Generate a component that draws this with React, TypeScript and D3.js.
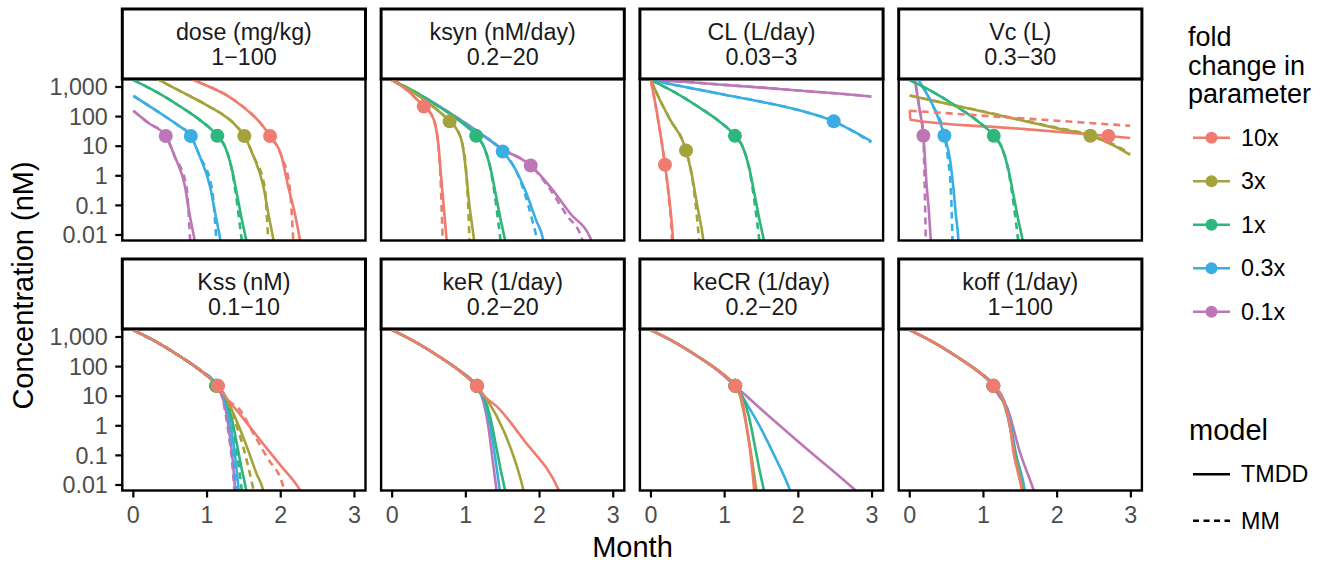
import React from 'react';
import * as d3 from 'd3';

type Pt = [number, number]; // [month, concentration nM]

const foldLabels = ['10x', '3x', '1x', '0.3x', '0.1x'];
const foldColors = ['#F07B6F', '#A4A23A', '#2EB67D', '#3AAEE3', '#BD77B6'];
const modelLabels = ['TMDD', 'MM'];
const panelNames = ['dose (mg/kg)', 'ksyn (nM/day)', 'CL (L/day)', 'Vc (L)', 'Kss (nM)', 'keR (1/day)', 'keCR (1/day)', 'koff (1/day)'];
const panelRanges = ['1\u2212100', '0.2\u221220', '0.03\u22123', '0.3\u221230', '0.1\u221210', '0.2\u221220', '0.2\u221220', '1\u2212100'];
const monthTicks = [0, 1, 2, 3];
const concTicks = [0.01, 0.1, 1, 10, 100, 1000];

// reference (1x) profile, shared by every panel
const base1xHead: Pt[] = [[0, 1700], [0.3, 710], [0.63, 224], [0.905, 76], [1.14, 22.4]];
const base1xTmdd: Pt[] = [...base1xHead, [1.25, 8.9], [1.33, 2.0], [1.40, 0.28], [1.47, 0.035], [1.53, 0.0069], [1.56, 0.0025]];
const base1xMm: Pt[] = [...base1xHead, [1.25, 8.9], [1.33, 1.9], [1.39, 0.25], [1.44, 0.028], [1.47, 0.0069], [1.49, 0.0025]];

// dose
const doseTmdd: Pt[][] = [
  [[0, 15800], [0.81, 1780], [1.36, 372], [1.76, 47], [1.855, 22], [2.01, 4.6], [2.10, 0.44], [2.19, 0.055], [2.26, 0.0069], [2.29, 0.0025]],
  [[0, 5250], [0.34, 1780], [0.7, 600], [1.0, 240], [1.4, 47], [1.506, 22], [1.63, 4.6], [1.764, 0.44], [1.83, 0.055], [1.90, 0.0069], [1.93, 0.0025]],
  base1xTmdd,
  [[0, 500], [0.36, 132], [0.6, 52], [0.78, 22], [0.90, 4.6], [1.04, 0.44], [1.11, 0.055], [1.18, 0.0069], [1.21, 0.0025]],
  [[0, 158], [0.2, 62], [0.44, 22], [0.56, 4.6], [0.70, 0.44], [0.76, 0.055], [0.83, 0.0069], [0.86, 0.0025]],
];
const doseMm: Pt[][] = [
  [[0, 15800], [0.81, 1780], [1.36, 372], [1.76, 47], [1.855, 22], [2.01, 4.6], [2.12, 0.44], [2.17, 0.0069], [2.18, 0.0025]],
  [[0, 5250], [0.34, 1780], [0.7, 600], [1.0, 240], [1.4, 47], [1.506, 22], [1.63, 4.6], [1.78, 0.44], [1.83, 0.0069], [1.84, 0.0025]],
  base1xMm,
  [[0, 500], [0.36, 132], [0.6, 52], [0.78, 22], [0.90, 4.6], [1.06, 0.44], [1.125, 0.0069], [1.135, 0.0025]],
  [[0, 158], [0.2, 62], [0.44, 22], [0.56, 4.6], [0.72, 0.44], [0.77, 0.0069], [0.78, 0.0025]],
];
const doseDots: (Pt | null)[] = [[1.855, 22], [1.506, 22], [1.14, 22.4], [0.78, 22], [0.44, 22]];

// ksyn
const ksynTmdd: Pt[][] = [
  [[0, 1700], [0.2, 790], [0.43, 219], [0.52, 132], [0.59, 47], [0.63, 9.8], [0.66, 1.23], [0.70, 0.093], [0.74, 0.0069], [0.76, 0.0025]],
  [[0, 1700], [0.4, 427], [0.78, 69], [0.88, 36], [0.95, 12.9], [0.995, 2.1], [1.04, 0.155], [1.11, 0.0069], [1.13, 0.0025]],
  base1xTmdd,
  [[0, 1700], [0.6, 250], [1.1, 38], [1.5, 6.6], [1.66, 1.9], [1.82, 0.263], [1.95, 0.033], [2.05, 0.0069], [2.08, 0.0025]],
  [[0, 1700], [0.6, 255], [1.1, 40], [1.5, 7.9], [1.88, 2.24], [2.14, 0.44], [2.42, 0.052], [2.70, 0.0069], [2.76, 0.0025]],
];
const ksynMm: Pt[][] = [
  [[0, 1700], [0.2, 790], [0.43, 219], [0.52, 132], [0.59, 47], [0.63, 8.9], [0.655, 1.0], [0.67, 0.1], [0.685, 0.0069], [0.69, 0.0025]],
  [[0, 1700], [0.4, 427], [0.78, 69], [0.88, 36], [0.95, 12.9], [1.0, 1.9], [1.03, 0.126], [1.05, 0.0069], [1.06, 0.0025]],
  base1xMm,
  [[0, 1700], [0.6, 250], [1.1, 38], [1.5, 6.6], [1.66, 1.9], [1.80, 0.25], [1.90, 0.032], [1.96, 0.0069], [1.98, 0.0025]],
  [[0, 1700], [0.6, 255], [1.1, 40], [1.5, 7.9], [1.88, 2.24], [2.12, 0.42], [2.36, 0.05], [2.58, 0.0069], [2.63, 0.0025]],
];
const ksynDots: (Pt | null)[] = [[0.43, 219], [0.78, 69], [1.14, 22.4], [1.5, 6.6], [1.88, 2.24]];

// CL
const clTmdd: Pt[][] = [
  [[0, 1700], [0.1, 71], [0.19, 2.37], [0.25, 0.158], [0.30, 0.0069], [0.31, 0.0025]],
  [[0, 1700], [0.12, 372], [0.26, 79], [0.476, 7.2], [0.55, 1.23], [0.63, 0.093], [0.71, 0.0069], [0.73, 0.0025]],
  base1xTmdd,
  [[0, 1700], [0.5, 955], [1.0, 550], [1.48, 324], [2.0, 166], [2.48, 69], [2.75, 31.6], [2.99, 14.5]],
  [[0, 1700], [0.5, 1480], [1.0, 1175], [1.5, 955], [2.0, 759], [2.5, 617], [2.99, 479]],
];
const clMm: Pt[][] = [
  [[0, 1700], [0.1, 71], [0.19, 2.37], [0.245, 0.15], [0.285, 0.0069], [0.29, 0.0025]],
  [[0, 1700], [0.12, 372], [0.26, 79], [0.476, 7.2], [0.55, 1.2], [0.61, 0.09], [0.65, 0.0069], [0.66, 0.0025]],
  base1xMm,
  [[0, 1700], [0.5, 955], [1.0, 550], [1.48, 324], [2.0, 166], [2.48, 69], [2.75, 31], [2.99, 13.5]],
  [[0, 1700], [0.5, 1480], [1.0, 1175], [1.5, 955], [2.0, 759], [2.5, 617], [2.99, 479]],
];
const clDots: (Pt | null)[] = [[0.19, 2.37], [0.476, 7.2], [1.14, 22.4], [2.48, 69], null];

// Vc
const vcTmdd: Pt[][] = [
  [[0, 165], [0.008, 78], [1.5, 39], [2.695, 22], [2.99, 19]],
  [[0, 513], [1.0, 145], [2.0, 40], [2.45, 22.6], [2.75, 11.2], [2.99, 5.1]],
  base1xTmdd,
  [[0, 5600], [0.117, 1780], [0.32, 219], [0.47, 22.6], [0.547, 3.47], [0.59, 0.437], [0.625, 0.05], [0.66, 0.0069], [0.67, 0.0025]],
  [[0, 17000], [0.07, 1780], [0.13, 200], [0.185, 22.6], [0.23, 0.437], [0.26, 0.063], [0.285, 0.0069], [0.295, 0.0025]],
];
const vcMm: Pt[][] = [
  [[0, 158], [1.5, 88], [2.99, 49]],
  [[0, 513], [1.0, 148], [2.0, 42], [2.45, 24], [2.75, 12], [2.99, 5.6]],
  base1xMm,
  [[0, 5600], [0.117, 1780], [0.32, 219], [0.47, 22.6], [0.52, 3.5], [0.555, 0.44], [0.57, 0.055], [0.58, 0.0069], [0.585, 0.0025]],
  [[0, 17000], [0.07, 1780], [0.13, 200], [0.185, 22.6], [0.20, 1.0], [0.21, 0.063], [0.218, 0.0069], [0.222, 0.0025]],
];
const vcDots: (Pt | null)[] = [[2.695, 22], [2.45, 22.6], [1.14, 22.4], [0.47, 22.6], [0.185, 22.6]];

// Kss
const kssTmdd: Pt[][] = [
  [...base1xHead, [1.22, 12.3], [1.30, 6.5], [1.40, 3.4], [1.72, 0.33], [2.0, 0.045], [2.26, 0.0068], [2.3, 0.0045]],
  [...base1xHead, [1.25, 9.5], [1.357, 2.63], [1.54, 0.195], [1.67, 0.0245], [1.76, 0.0068], [1.78, 0.004]],
  base1xTmdd,
  [...base1xHead, [1.25, 6.3], [1.32, 1.0], [1.38, 0.1], [1.43, 0.0068], [1.45, 0.003]],
  [...base1xHead, [1.24, 5.0], [1.30, 0.63], [1.35, 0.063], [1.38, 0.0068], [1.39, 0.003]],
];
const kssMm: Pt[][] = [
  [...base1xHead, [1.22, 12.3], [1.30, 6.8], [1.448, 3.4], [1.628, 0.55], [1.81, 0.089], [2.035, 0.0087], [2.07, 0.004]],
  [...base1xHead, [1.25, 9.2], [1.357, 2.0], [1.5, 0.158], [1.58, 0.025], [1.63, 0.0068], [1.65, 0.004]],
  base1xMm,
  [...base1xHead, [1.25, 6.0], [1.31, 0.9], [1.36, 0.08], [1.40, 0.0068], [1.42, 0.003]],
  [...base1xHead, [1.23, 5.0], [1.29, 0.6], [1.34, 0.06], [1.37, 0.0068], [1.38, 0.003]],
];
const kssDots: (Pt | null)[] = [[1.15, 22.4], [1.14, 22.4], [1.12, 22.4], [1.13, 22.4], [1.14, 22.4]];

// keR
const keRTmdd: Pt[][] = [
  [...base1xHead, [1.25, 10], [1.425, 4.37], [1.786, 0.331], [2.26, 0.0068], [2.3, 0.004]],
  [...base1xHead, [1.29, 7.4], [1.51, 0.71], [1.65, 0.089], [1.78, 0.0068], [1.8, 0.004]],
  base1xTmdd,
  [...base1xHead, [1.25, 7.1], [1.33, 1.0], [1.40, 0.079], [1.46, 0.0068], [1.48, 0.003]],
  [...base1xHead, [1.24, 6.3], [1.31, 0.79], [1.36, 0.079], [1.415, 0.0068], [1.43, 0.003]],
];
const keRDots: (Pt | null)[] = [[1.15, 22.4], [1.15, 22.4], [1.15, 22.4], [1.15, 22.4], [1.15, 22.4]];

// keCR
const keCRTmdd: Pt[][] = [
  [...base1xHead, [1.21, 12.3], [1.30, 0.93], [1.37, 0.042], [1.40, 0.0068], [1.41, 0.003]],
  [...base1xHead, [1.2, 12], [1.28, 1.58], [1.35, 0.158], [1.43, 0.0068], [1.45, 0.003]],
  base1xTmdd,
  [...base1xHead, [1.3, 5.5], [1.479, 0.93], [1.66, 0.117], [1.886, 0.0068], [1.92, 0.004]],
  [...base1xHead, [1.3, 10], [1.48, 3.89], [2.1, 0.178], [2.77, 0.0068], [2.85, 0.0045]],
];
const keCRDots: (Pt | null)[] = [[1.144, 22.4], [1.144, 22.4], [1.144, 22.4], [1.144, 22.4], [1.144, 22.4]];

// koff
const koffTmdd: Pt[][] = [
  [...base1xHead, [1.27, 7.4], [1.36, 1.0], [1.41, 0.117], [1.47, 0.025], [1.52, 0.0068], [1.54, 0.003]],
  [...base1xHead, [1.27, 7.6], [1.36, 1.05], [1.42, 0.117], [1.53, 0.0068], [1.55, 0.003]],
  base1xTmdd,
  [...base1xHead, [1.28, 7.1], [1.37, 1.12], [1.44, 0.117], [1.56, 0.0068], [1.58, 0.003]],
  [...base1xHead, [1.2, 11.2], [1.316, 4.37], [1.50, 0.117], [1.68, 0.0068], [1.71, 0.004]],
];
const koffDots: (Pt | null)[] = [[1.134, 22.4], [1.134, 22.4], [1.134, 22.4], [1.134, 22.4], [1.134, 22.4]];

const panels = [
  { tmdd: doseTmdd, mm: doseMm, dots: doseDots },
  { tmdd: ksynTmdd, mm: ksynMm, dots: ksynDots },
  { tmdd: clTmdd, mm: clMm, dots: clDots },
  { tmdd: vcTmdd, mm: vcMm, dots: vcDots },
  { tmdd: kssTmdd, mm: kssMm, dots: kssDots },
  { tmdd: keRTmdd, mm: null, dots: keRDots },
  { tmdd: keCRTmdd, mm: null, dots: keCRDots },
  { tmdd: koffTmdd, mm: null, dots: koffDots },
];

const FONT = '"Liberation Sans", Arial, Helvetica, sans-serif';
const panelLeft0 = 122.3;
const panelStep = 258.8;
const panelW = 243.2;
const rowTop = [9, 259];
const stripH = 70;
const plotH = 161.5;
const lineW = 2.6;
const dash = '7,5';
const drawOrder = [4, 3, 2, 1, 0]; // red ends up on top

export default function App() {
  const x = d3.scaleLinear().domain([-0.15, 3.15]).range([0, panelW]);
  const y = d3.scaleLog().domain([Math.pow(10, -2.186), Math.pow(10, 3.27)]).range([plotH, 0]);
  const line = d3.line<Pt>().x((d) => x(d[0])).y((d) => y(d[1])).curve(d3.curveMonotoneX);
  const fmt = d3.format(',');

  return (
    <svg width={1333} height={563} style={{ position: 'absolute', left: 0, top: 0, background: '#fff' }} fontFamily={FONT}>
      <rect width={1333} height={563} fill="#fff" />
      {panels.map((p, i) => {
        const col = i % 4;
        const row = Math.floor(i / 4);
        const left = panelLeft0 + col * panelStep;
        const top = rowTop[row];
        return (
          <g key={i} transform={`translate(${left},${top})`}>
            <rect x={0} y={0} width={panelW} height={stripH} fill="#fff" stroke="#000" strokeWidth={3} />
            <text x={panelW / 2} y={30.5} textAnchor="middle" fontSize={23.3} fill="#1a1a1a">{panelNames[i]}</text>
            <text x={panelW / 2} y={55.5} textAnchor="middle" fontSize={23.3} fill="#1a1a1a">{panelRanges[i]}</text>
            <g transform={`translate(0,${stripH})`}>
              <defs>
                <clipPath id={`clip${i}`}>
                  <rect x={0} y={0} width={panelW} height={plotH} />
                </clipPath>
              </defs>
              <g clipPath={`url(#clip${i})`}>
                {drawOrder.map((k) => (
                  <path key={`t${k}`} d={line(p.tmdd[k]) || ''} fill="none" stroke={foldColors[k]} strokeWidth={lineW} strokeLinejoin="round" />
                ))}
                {p.mm && drawOrder.map((k) => (
                  <path key={`m${k}`} d={line(p.mm![k]) || ''} fill="none" stroke={foldColors[k]} strokeWidth={lineW} strokeDasharray={dash} />
                ))}
              </g>
              {drawOrder.map((k) => {
                const d = p.dots[k];
                return d ? <circle key={`d${k}`} cx={x(d[0])} cy={y(d[1])} r={7} fill={foldColors[k]} /> : null;
              })}
              <rect x={0} y={0} width={panelW} height={plotH} fill="none" stroke="#000" strokeWidth={2.4} />
              {col === 0 && concTicks.map((v) => (
                <g key={`y${v}`} transform={`translate(0,${y(v)})`}>
                  <line x1={-7} x2={0} stroke="#000" strokeWidth={2.2} />
                  <text x={-14.5} dy="0.35em" textAnchor="end" fontSize={23.3} fill="#4d4d4d">{fmt(v)}</text>
                </g>
              ))}
              {row === 1 && monthTicks.map((v) => (
                <g key={`x${v}`} transform={`translate(${x(v)},${plotH})`}>
                  <line y1={0} y2={7} stroke="#000" strokeWidth={2.2} />
                  <text y={32.5} textAnchor="middle" fontSize={23.3} fill="#4d4d4d">{v}</text>
                </g>
              ))}
            </g>
          </g>
        );
      })}

      <text x={632.5} y={557} textAnchor="middle" fontSize={29} fill="#000">Month</text>
      <text transform="translate(33,285.5) rotate(-90)" textAnchor="middle" fontSize={29} fill="#000">Concentration (nM)</text>

      <g fontSize={27} fill="#000">
        <text x={1188} y={45.7}>fold</text>
        <text x={1188} y={74.5}>change in</text>
        <text x={1188} y={103.3}>parameter</text>
      </g>
      {foldLabels.map((lab, i) => {
        const ky = 137.8 + i * 43.5;
        return (
          <g key={lab}>
            <line x1={1193} x2={1230} y1={ky} y2={ky} stroke={foldColors[i]} strokeWidth={lineW} />
            <circle cx={1211.5} cy={ky} r={6} fill={foldColors[i]} />
            <text x={1241} y={ky} dy="0.35em" fontSize={23.3} fill="#000">{lab}</text>
          </g>
        );
      })}
      <text x={1189} y={440} fontSize={29} fill="#000">model</text>
      {modelLabels.map((lab, i) => {
        const ky = 474.3 + i * 46.4;
        return (
          <g key={lab}>
            <line x1={1193} x2={1230} y1={ky} y2={ky} stroke="#000" strokeWidth={lineW} strokeDasharray={i === 1 ? '6,4.5' : undefined} />
            <text x={1241} y={ky} dy="0.35em" fontSize={23.3} fill="#000">{lab}</text>
          </g>
        );
      })}
    </svg>
  );
}
